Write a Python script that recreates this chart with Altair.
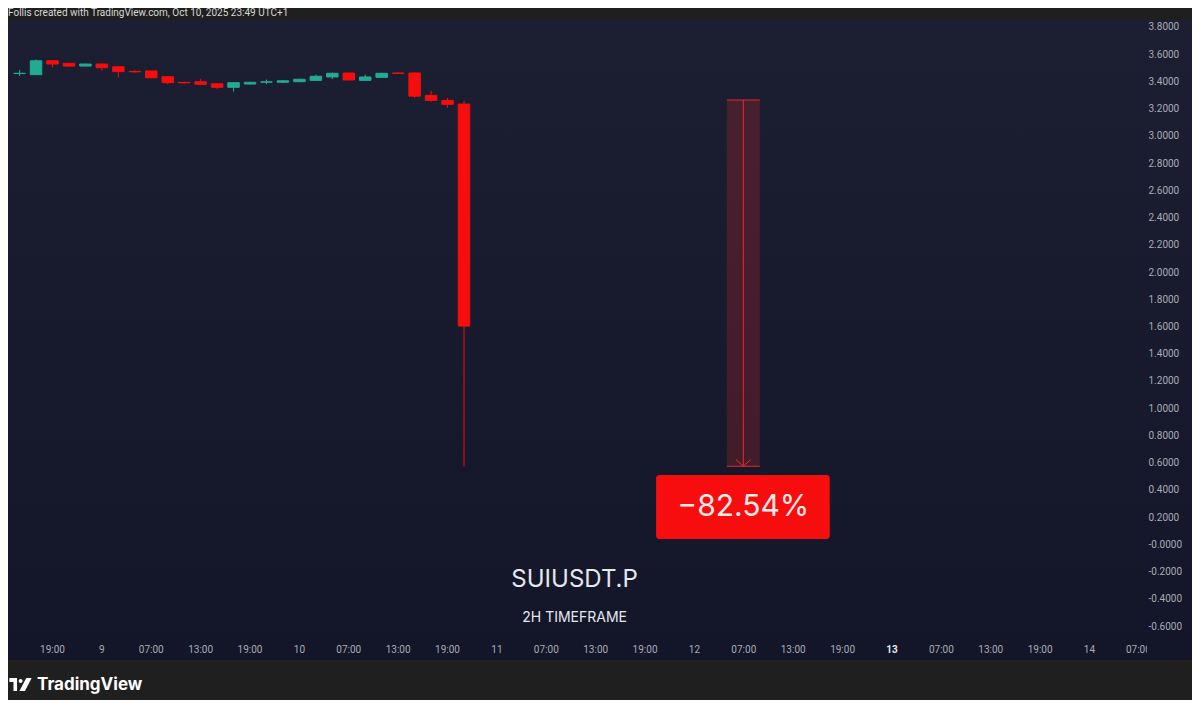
import json
import altair as alt
import pandas as pd

# ---------------- data ----------------
# time in hours since Oct 8, 19:00 (UTC+1); 2H candles
hours  = [-4, -2, 0, 2, 4, 6, 8, 10, 12, 14, 16, 18, 20, 22, 24, 26, 28, 30, 32, 34, 36, 38, 40, 42, 44, 46, 48, 50]
opens  = [3.458, 3.450, 3.552, 3.533, 3.513, 3.528, 3.508, 3.474, 3.477, 3.435, 3.393, 3.398, 3.383, 3.357,
          3.381, 3.395, 3.394, 3.398, 3.408, 3.433, 3.462, 3.408, 3.430, 3.462, 3.462, 3.298, 3.261, 3.234]
highs  = [3.484, 3.562, 3.556, 3.538, 3.531, 3.532, 3.512, 3.485, 3.480, 3.437, 3.400, 3.418, 3.386, 3.395,
          3.397, 3.414, 3.410, 3.420, 3.450, 3.465, 3.465, 3.450, 3.464, 3.466, 3.468, 3.332, 3.280, 3.258]
lows   = [3.440, 3.447, 3.504, 3.508, 3.510, 3.479, 3.430, 3.462, 3.424, 3.379, 3.385, 3.375, 3.344, 3.325,
          3.378, 3.380, 3.390, 3.395, 3.405, 3.418, 3.408, 3.404, 3.428, 3.455, 3.278, 3.252, 3.207, 0.573]
closes = [3.460, 3.552, 3.528, 3.513, 3.528, 3.501, 3.472, 3.471, 3.427, 3.391, 3.390, 3.379, 3.357, 3.391,
          3.394, 3.397, 3.405, 3.416, 3.438, 3.460, 3.411, 3.433, 3.460, 3.459, 3.292, 3.261, 3.232, 1.603]

x_ticks = list(range(0, 127, 6))
x_tick_labels = ["19:00", "9", "07:00", "13:00", "19:00", "10", "07:00", "13:00", "19:00", "11", "07:00",
                 "13:00", "19:00", "12", "07:00", "13:00", "19:00", "13", "07:00", "13:00", "19:00", "14"]
y_ticks = [round(-0.6 + 0.2 * i, 1) for i in range(23)]
y_tick_labels = ["-0.6000", "-0.4000", "-0.2000", "-0.0000", "0.2000", "0.4000", "0.6000", "0.8000",
                 "1.0000", "1.2000", "1.4000", "1.6000", "1.8000", "2.0000", "2.2000", "2.4000",
                 "2.6000", "2.8000", "3.0000", "3.2000", "3.4000", "3.6000", "3.8000"]

# measurement tool (price range)
meas_h = [82, 86]
meas_prices = [3.264, 0.573]
meas_label = "\u221282.54%"
label_box_h = [73.4, 94.5]
label_box_p = [0.039, 0.509]

titles = ["SUIUSDT.P", "2H TIMEFRAME"]
title_h = [63.5, 63.5]
title_p = [-0.262, -0.541]

extra_tick_h = [132]
extra_tick_label = ["07:00"]

header = "Follis created with TradingView.com, Oct 10, 2025 23:49 UTC+1"

# ---------------- styling ----------------
GREEN = "#22ab94"
RED = "#f70d0d"
PANEL_TOP = "#1b1f31"
PANEL_BOT = "#121628"
OUTER = "#1f1f1f"
LABEL = "#a9acb5"
FONT = "Roboto"

PLOT_W, PLOT_H = 1116, 615
PX_PER_H = 8.23
PX_PER_P = 136.14

df = pd.DataFrame({"h": hours, "open": opens, "high": highs, "low": lows, "close": closes})
df["dir"] = ["up" if c >= o else "down" for o, c in zip(opens, closes)]

xs = alt.Scale(domain=[-44 / PX_PER_H, (PLOT_W - 44) / PX_PER_H], nice=False, zero=False, padding=0)
ys = alt.Scale(domain=[-0.6 - 9 / PX_PER_P, 3.8 + 7 / PX_PER_P], nice=False, zero=False, padding=0)
cs = alt.Scale(domain=["up", "down"], range=[GREEN, RED])

x_axis = alt.Axis(
    values=x_ticks,
    labelExpr=f"{json.dumps(x_tick_labels)}[round(datum.value/6)]",
    title=None, grid=False, domain=False, ticks=False, tickSize=0,
    labelPadding=9, labelFlush=False, labelOverlap=False,
    labelFont=FONT, labelFontSize=10,
    labelColor={"condition": {"test": "datum.value == 102", "value": "#e6e8ee"}, "value": LABEL},
    labelFontWeight={"condition": {"test": "datum.value == 102", "value": "bold"}, "value": "normal"},
    zindex=1,
)
y_axis = alt.Axis(
    values=y_ticks, orient="right",
    labelExpr=f"{json.dumps(y_tick_labels)}[round((datum.value+0.6)/0.2)]",
    title=None, grid=False, domain=False, ticks=False, tickSize=0,
    labelPadding=24, labelAlign="left", labelBaseline="middle",
    labelFlush=False, labelOverlap=False,
    labelFont=FONT, labelFontSize=10, labelColor=LABEL, zindex=1,
)

X = lambda f: alt.X(f, type="quantitative", scale=xs, axis=x_axis)
Y = lambda f: alt.Y(f, type="quantitative", scale=ys, axis=y_axis)

one = pd.DataFrame({"a": [0]})

bg = alt.Chart(one).mark_rect(
    color=alt.Gradient(gradient="linear", x1=0, x2=0, y1=0, y2=1,
                       stops=[alt.GradientStop(color=PANEL_TOP, offset=0),
                              alt.GradientStop(color=PANEL_BOT, offset=1)])
).encode(x=alt.value(0), x2=alt.value(1184), y=alt.value(0), y2=alt.value(640))

wicks = alt.Chart(df).mark_rule(strokeWidth=1, opacity=1, xOffset=0.5).encode(
    x=X("h"), y=Y("low"), y2="high",
    color=alt.Color("dir:N", scale=cs, legend=None),
)
bodies = alt.Chart(df).mark_bar(width=11.5, strokeWidth=1, xOffset=0.5).encode(
    x=X("h"), y=Y("open"), y2="close",
    color=alt.Color("dir:N", scale=cs, legend=None),
    stroke=alt.Stroke("dir:N", scale=cs, legend=None),
)

mdf = pd.DataFrame({
    "h0": [meas_h[0]], "h1": [meas_h[1]], "hc": [(meas_h[0] + meas_h[1]) / 2],
    "top": [meas_prices[0]], "bot": [meas_prices[1]],
    "lx0": [label_box_h[0]], "lx1": [label_box_h[1]],
    "ly0": [label_box_p[0]], "ly1": [label_box_p[1]],
    "lyc": [(label_box_p[0] + label_box_p[1]) / 2],
    "label": [meas_label],
})
mrect = alt.Chart(mdf).mark_rect(color="#ff2a2a", opacity=0.2).encode(
    x=X("h0"), x2="h1", y=Y("bot"), y2="top")
mtop = alt.Chart(mdf).mark_rule(color="#e8262b", strokeWidth=1).encode(x=X("h0"), x2="h1", y=Y("top"))
mbot = alt.Chart(mdf).mark_rule(color="#e8262b", strokeWidth=1).encode(x=X("h0"), x2="h1", y=Y("bot"))
mvert = alt.Chart(mdf).mark_rule(color="#f0262b", strokeWidth=1).encode(x=X("hc"), y=Y("bot"), y2="top")
mhead = alt.Chart(mdf).mark_point(
    shape="M-1,-0.9L0,0L1,-0.9", size=225, filled=False, color="#f0262b", strokeWidth=1, opacity=1
).encode(x=X("hc"), y=Y("bot"))
lbox = alt.Chart(mdf).mark_rect(color=RED, cornerRadius=3).encode(
    x=X("lx0"), x2="lx1", y=Y("ly0"), y2="ly1")
ltext = alt.Chart(mdf).mark_text(font="Inter", fontSize=30, color="#ffeaea", baseline="middle").encode(
    x=X("hc"), y=Y("lyc"), text="label:N")

tdf = pd.DataFrame({"h": title_h, "p": title_p, "t": titles})
t1 = alt.Chart(tdf.iloc[[0]]).mark_text(font="Inter", fontSize=24, color="#e6e8ee", baseline="middle").encode(
    x=X("h"), y=Y("p"), text="t:N")
t2 = alt.Chart(tdf.iloc[[1]]).mark_text(font="Inter", fontSize=14, color="#e6e8ee", baseline="middle").encode(
    x=X("h"), y=Y("p"), text="t:N")

edf = pd.DataFrame({"h": extra_tick_h, "t": extra_tick_label})
etick = alt.Chart(edf).mark_text(font=FONT, fontSize=10, color=LABEL, baseline="middle").encode(
    x=X("h"), y=alt.value(630), text="t:N")
cover = alt.Chart(one).mark_rect(color=PANEL_BOT).encode(
    x=alt.value(1139), x2=alt.value(1184), y=alt.value(617), y2=alt.value(640))

hdr = alt.Chart(pd.DataFrame({"t": [header]})).mark_text(
    font=FONT, fontSize=10, color="#d8d8d8", align="left", baseline="middle"
).encode(x=alt.value(0), y=alt.value(-7.5), text="t:N")

LOGO_PATH = ("M-0.97,-0.57L-0.30,-0.57L-0.30,0.57L-0.61,0.57L-0.61,-0.22L-0.97,-0.22Z"
             "M-0.16,-0.30a0.17,0.17 0 1,0 0.34,0a0.17,0.17 0 1,0 -0.34,0Z"
             "M0.50,-0.57L0.97,-0.57L0.39,0.57L-0.09,0.57Z")
logo_icon = alt.Chart(one).mark_point(
    shape=LOGO_PATH, size=529, filled=True, color="#ffffff", opacity=1, strokeWidth=0
).encode(x=alt.value(12.5), y=alt.value(664.5))
logo_text = alt.Chart(pd.DataFrame({"t": ["TradingView"]})).mark_text(
    font="Inter", fontSize=17, fontWeight="bold", color="#ffffff", align="left", baseline="middle"
).encode(x=alt.value(29), y=alt.value(664.5), text="t:N")

chart = alt.layer(
    bg, wicks, bodies, mrect, mvert, mtop, mbot, mhead, lbox, ltext, t1, t2, etick, cover,
    hdr, logo_icon, logo_text
).properties(
    width=PLOT_W, height=PLOT_H,
    autosize=alt.AutoSizeParams(type="none"),
    padding={"left": 0, "top": 12, "right": 68, "bottom": 65},
).configure(background=OUTER).configure_view(stroke=None)

chart.save("out.html", embed_options={"renderer": "svg", "actions": False})
